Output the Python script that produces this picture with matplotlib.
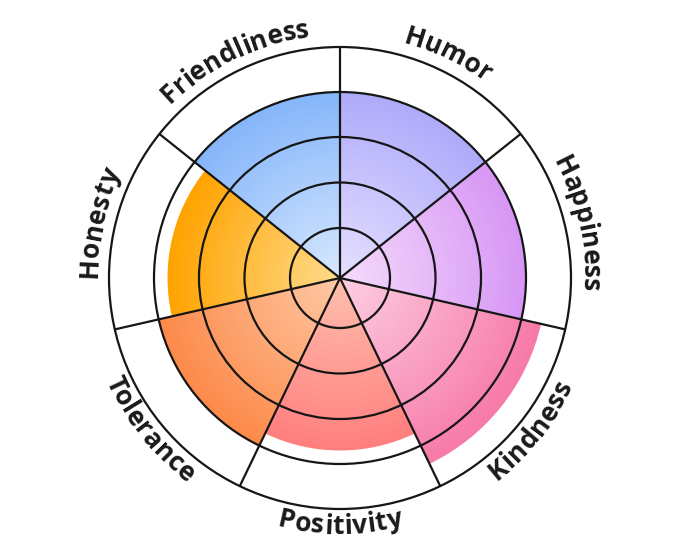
import numpy as np
import matplotlib.pyplot as plt
from matplotlib.patches import Wedge, Circle
from matplotlib.colors import to_rgb


LABELS = ["Humor", "Happiness", "Kindness", "Positivity",
          "Tolerance", "Honesty", "Friendliness"]
SCORES = [4.0, 4.0, 4.45, 3.7, 4.0, 3.7, 4.0]
LEVELS = [1, 2, 3, 4, 5]

INNER_COLORS = ["#e6e0ff", "#f5dcfc", "#fdd0e2", "#ffc0ae",
                "#ffc9a6", "#ffdc8c", "#d8e8ff"]
OUTER_COLORS = ["#afabfb", "#d797f5", "#f77aa9", "#ff7f7f",
                "#fd8a4a", "#ffa300", "#85b6fa"]

# pixel radius of each ring level (level 0 is the centre)
RING_R = [0, 50, 95.5, 141, 186, 231]
W, H = 680, 557
CX, CY = 340, 278


def level_radius(v):
    return float(np.interp(v, range(len(RING_R)), RING_R))


def curved_text(ax, renderer, text, center_deg, fontsize, spacing=1.03):
    kw = dict(fontsize=fontsize, fontweight="bold", family=["Open Sans", "DejaVu Sans"])

    # measure prefix widths in pixels
    def width(s):
        t = ax.text(0, 0, s, **kw)
        w = t.get_window_extent(renderer).width
        t.remove()
        return w

    total = width(text)
    inward = np.sin(np.radians(center_deg)) < 0
    r_mid = 251
    r_base = 256 if inward else 243
    for i, ch in enumerate(text):
        if ch == " ":
            continue
        s = (width(text[: i + 1]) - width(ch) / 2 - total / 2) * spacing
        dtheta = np.degrees(s / r_mid)
        a = center_deg + dtheta if inward else center_deg - dtheta
        rot = a + 90 if inward else a - 90
        x = r_base * np.cos(np.radians(a))
        y = r_base * np.sin(np.radians(a))
        ax.text(x, y, ch, rotation=rot, rotation_mode="anchor",
                ha="center", va="baseline", color="#1a1a1a", **kw)


def main():
    fig = plt.figure(figsize=(W / 100, H / 100), dpi=100)
    ax = fig.add_axes([0, 0, 1, 1])
    ax.set_xlim(-CX, W - CX)
    ax.set_ylim(-(H - CY), CY)
    ax.axis("off")

    n = len(LABELS)
    step = 360 / n

    # gradient grid
    R = 240
    g = np.linspace(-R, R, 700)
    xx, yy = np.meshgrid(g, g[::-1])
    rr = np.hypot(xx, yy)

    for i, (score, c0, c1) in enumerate(zip(SCORES, INNER_COLORS, OUTER_COLORS)):
        rf = level_radius(score)
        t = np.clip(rr / rf, 0, 1)[..., None]
        img = np.array(to_rgb(c0)) * (1 - t) + np.array(to_rgb(c1)) * t
        wedge = Wedge((0, 0), rf, 90 - (i + 1) * step, 90 - i * step,
                      facecolor="none", edgecolor="none")
        ax.add_patch(wedge)
        im = ax.imshow(img, extent=(-R, R, -R, R), interpolation="bilinear", zorder=1)
        im.set_clip_path(wedge)

    for lv in LEVELS:
        ax.add_patch(Circle((0, 0), level_radius(lv), facecolor="none",
                            edgecolor="#161616", lw=1.6, zorder=3))

    r_out = level_radius(LEVELS[-1])
    for i in range(n):
        a = np.radians(90 - i * step)
        ax.plot([0, r_out * np.cos(a)], [0, r_out * np.sin(a)],
                color="#161616", lw=1.6, zorder=3, solid_capstyle="butt")

    ax.set_aspect("equal")
    fig.canvas.draw()
    renderer = fig.canvas.get_renderer()
    for i, label in enumerate(LABELS):
        center = 90 - (i + 0.5) * step
        curved_text(ax, renderer, label, center, 19)

    fig.savefig("out.png", dpi=100)
    plt.close(fig)


if __name__ == "__main__":
    main()
